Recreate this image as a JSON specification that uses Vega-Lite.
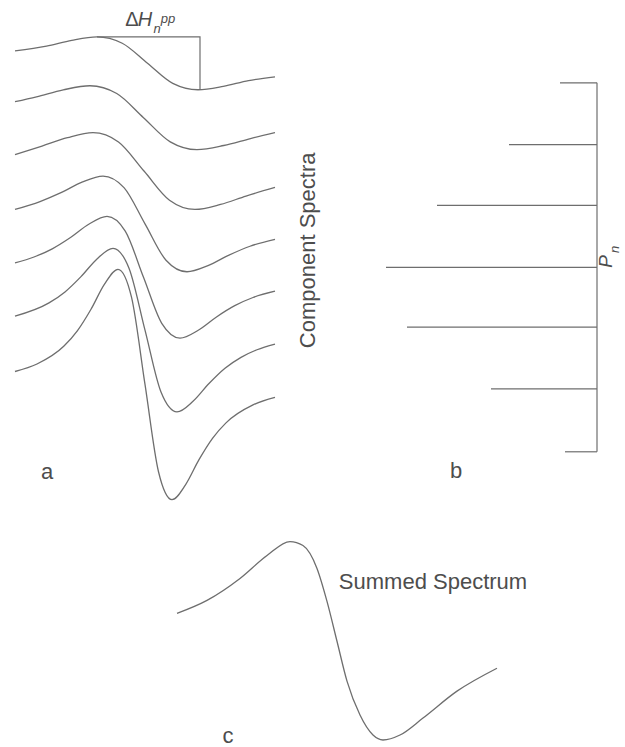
{
  "$schema": "https://vega.github.io/schema/vega-lite/v6.json",
  "width": 625,
  "height": 747,
  "padding": 0,
  "autosize": {"type": "fit", "contains": "padding"},
  "background": "white",
  "config": {"view": {"stroke": null}},
  "datasets": {
    "curves": [
      {"s": 1, "x": 15, "y": 51}, {"s": 1, "x": 46.5, "y": 46.2}, {"s": 1, "x": 71.75, "y": 40.4}, {"s": 1, "x": 97, "y": 37}, {"s": 1, "x": 122.25, "y": 43.4}, {"s": 1, "x": 147.5, "y": 63.5}, {"s": 1, "x": 172.75, "y": 83.6}, {"s": 1, "x": 198, "y": 90}, {"s": 1, "x": 223.25, "y": 86.6}, {"s": 1, "x": 248.5, "y": 80.8}, {"s": 1, "x": 275, "y": 77},
      {"s": 2, "x": 15, "y": 102}, {"s": 2, "x": 36.5, "y": 97.1}, {"s": 2, "x": 63.25, "y": 90.1}, {"s": 2, "x": 90, "y": 86}, {"s": 2, "x": 116.75, "y": 93.8}, {"s": 2, "x": 143.5, "y": 118}, {"s": 2, "x": 170.25, "y": 142.2}, {"s": 2, "x": 197, "y": 150}, {"s": 2, "x": 223.75, "y": 145.9}, {"s": 2, "x": 250.5, "y": 138.9}, {"s": 2, "x": 275, "y": 133},
      {"s": 3, "x": 15, "y": 155}, {"s": 3, "x": 42, "y": 146.4}, {"s": 3, "x": 67.5, "y": 138}, {"s": 3, "x": 93, "y": 133}, {"s": 3, "x": 118.5, "y": 142.3}, {"s": 3, "x": 144, "y": 171.5}, {"s": 3, "x": 169.5, "y": 200.7}, {"s": 3, "x": 195, "y": 210}, {"s": 3, "x": 220.5, "y": 205}, {"s": 3, "x": 246, "y": 196.6}, {"s": 3, "x": 275, "y": 188},
      {"s": 4, "x": 15, "y": 210}, {"s": 4, "x": 40, "y": 202.1}, {"s": 4, "x": 61, "y": 193.2}, {"s": 4, "x": 82, "y": 182.7}, {"s": 4, "x": 103, "y": 176.5}, {"s": 4, "x": 124, "y": 188.1}, {"s": 4, "x": 145, "y": 224.5}, {"s": 4, "x": 166, "y": 260.9}, {"s": 4, "x": 187, "y": 272.5}, {"s": 4, "x": 208, "y": 266.3}, {"s": 4, "x": 229, "y": 255.8}, {"s": 4, "x": 250, "y": 246.9}, {"s": 4, "x": 275, "y": 240},
      {"s": 5, "x": 15, "y": 263.5}, {"s": 5, "x": 34, "y": 257.7}, {"s": 5, "x": 52.25, "y": 249.5}, {"s": 5, "x": 70.5, "y": 238.2}, {"s": 5, "x": 88.75, "y": 224.9}, {"s": 5, "x": 107, "y": 217}, {"s": 5, "x": 125.25, "y": 231.8}, {"s": 5, "x": 143.5, "y": 278}, {"s": 5, "x": 161.75, "y": 324.2}, {"s": 5, "x": 180, "y": 339}, {"s": 5, "x": 198.25, "y": 331.1}, {"s": 5, "x": 216.5, "y": 317.8}, {"s": 5, "x": 234.75, "y": 306.5}, {"s": 5, "x": 253, "y": 298.3}, {"s": 5, "x": 275, "y": 292},
      {"s": 6, "x": 15, "y": 317}, {"s": 6, "x": 49, "y": 303.7}, {"s": 6, "x": 65, "y": 292.7}, {"s": 6, "x": 81, "y": 277.4}, {"s": 6, "x": 97, "y": 259.6}, {"s": 6, "x": 113, "y": 249}, {"s": 6, "x": 129, "y": 268.9}, {"s": 6, "x": 145, "y": 331}, {"s": 6, "x": 161, "y": 393.1}, {"s": 6, "x": 177, "y": 413}, {"s": 6, "x": 193, "y": 402.4}, {"s": 6, "x": 209, "y": 384.6}, {"s": 6, "x": 225, "y": 369.3}, {"s": 6, "x": 241, "y": 358.3}, {"s": 6, "x": 257, "y": 350.7}, {"s": 6, "x": 275, "y": 345},
      {"s": 7, "x": 15, "y": 372.5}, {"s": 7, "x": 37, "y": 365}, {"s": 7, "x": 64, "y": 347}, {"s": 7, "x": 77.5, "y": 331.5}, {"s": 7, "x": 91, "y": 310.1}, {"s": 7, "x": 104.5, "y": 284.9}, {"s": 7, "x": 118, "y": 270}, {"s": 7, "x": 131.5, "y": 298}, {"s": 7, "x": 145, "y": 385.5}, {"s": 7, "x": 158.5, "y": 473}, {"s": 7, "x": 172, "y": 501}, {"s": 7, "x": 185.5, "y": 486.1}, {"s": 7, "x": 199, "y": 460.9}, {"s": 7, "x": 212.5, "y": 439.5}, {"s": 7, "x": 226, "y": 424}, {"s": 7, "x": 253, "y": 406}, {"s": 7, "x": 275, "y": 398.5}
    ],
    "bracket": [
      {"x": 97, "y": 37}, {"x": 200, "y": 37}, {"x": 200, "y": 90}
    ],
    "summed": [
      {"x": 177, "y": 615}, {"x": 207, "y": 602}, {"x": 240, "y": 580}, {"x": 267, "y": 557}, {"x": 290, "y": 543}, {"x": 303, "y": 547}, {"x": 317, "y": 570}, {"x": 327, "y": 603}, {"x": 337, "y": 643}, {"x": 347, "y": 683}, {"x": 360, "y": 717}, {"x": 373, "y": 737}, {"x": 383, "y": 742}, {"x": 400, "y": 737}, {"x": 423, "y": 720}, {"x": 457, "y": 693}, {"x": 497, "y": 670}
    ],
    "bars": [
      {"x": 597, "x2": 597, "y": 83, "y2": 453},
      {"x": 560, "x2": 597, "y": 83, "y2": 83},
      {"x": 509, "x2": 597, "y": 145, "y2": 145},
      {"x": 437, "x2": 597, "y": 206, "y2": 206},
      {"x": 386, "x2": 597, "y": 268, "y2": 268},
      {"x": 407, "x2": 597, "y": 328, "y2": 328},
      {"x": 491, "x2": 597, "y": 390, "y2": 390},
      {"x": 565, "x2": 597, "y": 453, "y2": 453}
    ],
    "upright": [
      {"t": "a", "x": 47, "y": 473, "size": 22},
      {"t": "b", "x": 456, "y": 472, "size": 22},
      {"t": "c", "x": 228, "y": 738, "size": 22},
      {"t": "Summed Spectrum", "x": 433, "y": 584, "size": 22},
      {"t": "Δ", "x": 132, "y": 20, "size": 20}
    ],
    "rotated": [
      {"t": "Component Spectra", "x": 308, "y": 251, "size": 22}
    ],
    "italic": [
      {"t": "H", "x": 145, "y": 20, "size": 20},
      {"t": "n", "x": 157, "y": 29, "size": 13},
      {"t": "pp", "x": 168, "y": 19, "size": 13}
    ],
    "italicRotated": [
      {"t": "P", "x": 606, "y": 262, "size": 19},
      {"t": "n", "x": 615, "y": 250, "size": 13}
    ]
  },
  "encoding": {
    "x": {"field": "x", "type": "quantitative", "scale": {"domain": [0, 625]}, "axis": null},
    "y": {"field": "y", "type": "quantitative", "scale": {"domain": [0, 747], "reverse": true}, "axis": null}
  },
  "layer": [
    {
      "data": {"name": "curves"},
      "mark": {"type": "line", "interpolate": "monotone", "color": "#6e6e6e", "strokeWidth": 1.3},
      "encoding": {
        "detail": {"field": "s", "type": "nominal"},
        "order": {"field": "x", "type": "quantitative"}
      }
    },
    {
      "data": {"name": "bracket"},
      "mark": {"type": "line", "interpolate": "linear", "color": "#6e6e6e", "strokeWidth": 1.2},
      "encoding": {
        "order": {"field": "y", "type": "quantitative"}
      }
    },
    {
      "data": {"name": "summed"},
      "mark": {"type": "line", "interpolate": "monotone", "color": "#6e6e6e", "strokeWidth": 1.3},
      "encoding": {
        "order": {"field": "x", "type": "quantitative"}
      }
    },
    {
      "data": {"name": "bars"},
      "mark": {"type": "rule", "color": "#6e6e6e", "strokeWidth": 1.2},
      "encoding": {
        "x2": {"field": "x2"},
        "y2": {"field": "y2"}
      }
    },
    {
      "data": {"name": "upright"},
      "mark": {"type": "text", "align": "center", "baseline": "middle", "font": "Liberation Sans", "color": "#4d4d4d"},
      "encoding": {
        "text": {"field": "t", "type": "nominal"},
        "size": {"field": "size", "type": "quantitative", "scale": null}
      }
    },
    {
      "data": {"name": "rotated"},
      "mark": {"type": "text", "align": "center", "baseline": "middle", "angle": 270, "font": "Liberation Sans", "color": "#4d4d4d"},
      "encoding": {
        "text": {"field": "t", "type": "nominal"},
        "size": {"field": "size", "type": "quantitative", "scale": null}
      }
    },
    {
      "data": {"name": "italic"},
      "mark": {"type": "text", "align": "center", "baseline": "middle", "fontStyle": "italic", "font": "Liberation Sans", "color": "#4d4d4d"},
      "encoding": {
        "text": {"field": "t", "type": "nominal"},
        "size": {"field": "size", "type": "quantitative", "scale": null}
      }
    },
    {
      "data": {"name": "italicRotated"},
      "mark": {"type": "text", "align": "center", "baseline": "middle", "angle": 270, "fontStyle": "italic", "font": "Liberation Sans", "color": "#4d4d4d"},
      "encoding": {
        "text": {"field": "t", "type": "nominal"},
        "size": {"field": "size", "type": "quantitative", "scale": null}
      }
    }
  ]
}
